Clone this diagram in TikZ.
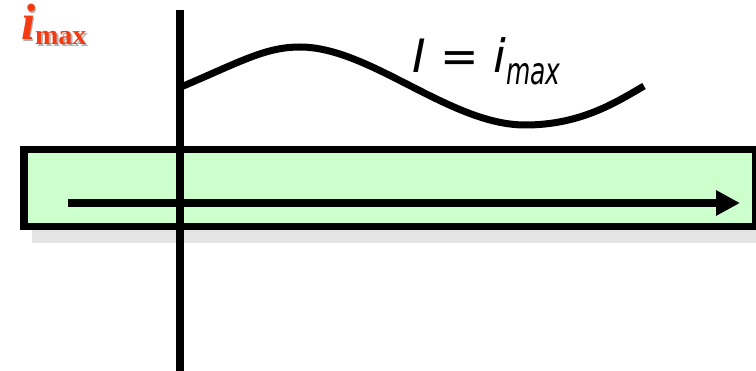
\documentclass[tikz,border=0pt]{standalone}
\usepackage{fontspec}
\setmainfont{Liberation Serif}
\newfontfamily\dejavu{DejaVu Sans}
\usetikzlibrary{arrows.meta}
\definecolor{boxgreen}{HTML}{CCFFCC}
\definecolor{shadowgray}{HTML}{E4E4E4}
\definecolor{labelred}{HTML}{F53A12}
\begin{document}
\begin{tikzpicture}[x=1pt,y=-1pt,
  thickline/.style={line width=7.5pt},
  lbl/.style={inner sep=0pt,outer sep=0pt}]
\useasboundingbox (0,0) rectangle (756,371);
% shadow of box
\fill[shadowgray] (32,158) rectangle (772,243);
% box
\node[draw,thickline,fill=boxgreen,minimum width=732pt,minimum height=77pt,inner sep=0pt,anchor=north west] (bar) at (20,146) {};
% arrow
\coordinate (arrS) at (68,203);
\coordinate (arrE) at (740,203);
\draw[line width=8pt,-{Triangle[length=24pt,width=24pt]}] (arrS) -- (arrE);
% curve
\coordinate (cA) at (181,87);
\coordinate (cP) at (300,47);
\coordinate (cM) at (525,125);
\coordinate (cE) at (644,86);
\draw[line width=7pt] (cA) .. controls (240,62) and (265,47) .. (cP)
  .. controls (370,47) and (450,125) .. (cM)
  .. controls (580,125) and (615,103) .. (cE);
% vertical line
\coordinate (vT) at (180,10);
\coordinate (vB) at (180,371);
\draw[thickline] (vT) -- (vB);
% label I = i_max
\node[lbl,anchor=base west] (eq) at (412,73) {\dejavu\itshape\fontsize{46}{46}\selectfont I = i\raisebox{-12pt}{\scalebox{1}[1.5]{\fontsize{25}{25}\selectfont max}}};
% red label with shadow
\node[lbl,anchor=base west,text=black!30] (imaxshadow) at (23,42) {\bfseries\itshape\fontsize{51}{51}\selectfont i\raisebox{-5pt}{\upshape\fontsize{28}{28}\selectfont max}};
\node[lbl,anchor=base west,text=labelred] (imax) at (21,40) {\bfseries\itshape\fontsize{51}{51}\selectfont i\raisebox{-5pt}{\upshape\fontsize{28}{28}\selectfont max}};
\end{tikzpicture}
\end{document}
